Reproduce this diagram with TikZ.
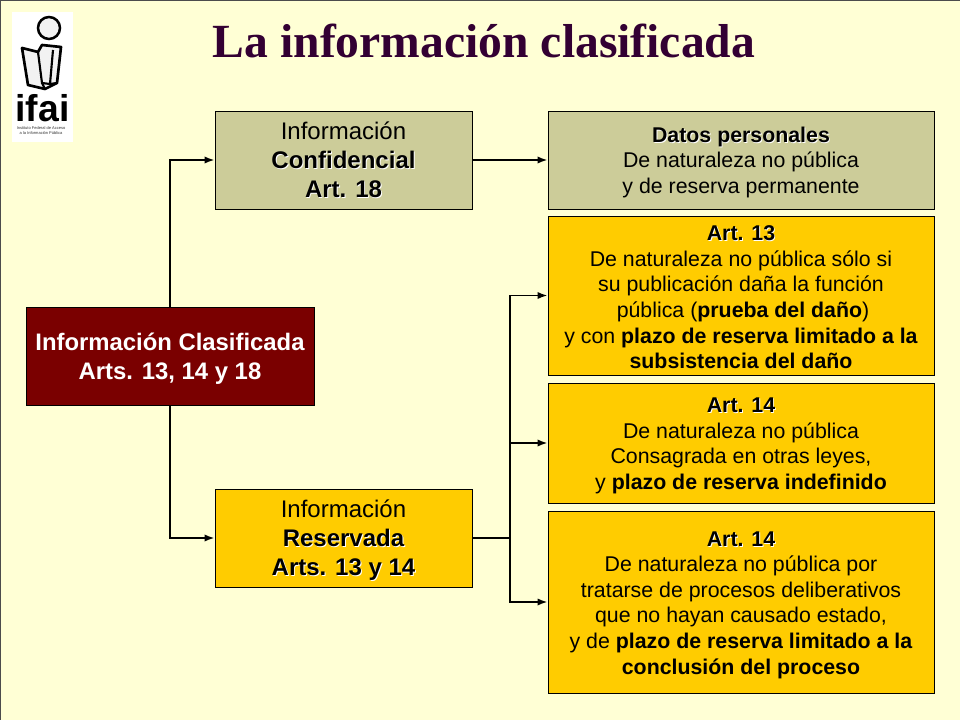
\documentclass[tikz,border=0pt]{standalone}
\usepackage{fontspec}
\usetikzlibrary{arrows.meta}
\setmainfont{Liberation Sans}
\newfontfamily\titlefont{Liberation Serif}
\definecolor{ifai-back}{RGB}{255,255,213}
\definecolor{ifai-olive}{RGB}{204,204,153}
\definecolor{ifai-gold}{RGB}{255,204,0}
\definecolor{ifai-maroon}{RGB}{122,0,0}
\definecolor{ifai-title}{RGB}{51,0,51}
\newcommand{\shadowbold}[1]{{\bfseries\makebox[0pt][l]{\hspace{0.7pt}\raisebox{-0.7pt}{\color{white}#1}}#1}}
\newcommand{\firstline}[1]{\rule{0pt}{#1}}
\tikzset{
	infobox/.style={draw=black, line width=0.7pt, inner sep=0pt, align=center, font=\fontsize{18}{21.8}\selectfont, minimum width=192.75pt, minimum height=73.5pt},
	detailbox/.style={draw=black, line width=0.7pt, inner sep=0pt, align=center, font=\fontsize{16}{19.2}\selectfont, minimum width=289.5pt},
	link/.style={-{Latex[length=7.5pt, width=5.5pt]}, line width=1.4pt}
}

\begin{document}
\begin{tikzpicture}[x=0.75pt, y=-0.75pt]
		% Draw the slide background
		\fill[ifai-back] (0,0) rectangle (960,720);
		\useasboundingbox (0,0) rectangle (960,720);
		\draw[black!70, line width=1pt] (960,0) -- (0,0) -- (0,720);
		
		% Draw the title
		\node (title) [font=\titlefont\bfseries\fontsize{35.7}{40}\selectfont, text=ifai-title, anchor=center] at (484,41) {La información clasificada};
		
		% Draw the logo
		\fill[white] (12,12) rectangle (73,142);
		\draw[line width=1.9pt, fill=black!5] (49,28) circle (11);
		\draw[line width=2pt, fill=black!5, line join=round] (22,48) -- (38,52) -- (42,45) -- (61,47) -- (57,83) -- (45,89) -- (28,85) -- cycle;
		\draw[line width=1.6pt] (38,52) -- (42,83) -- (50,84) -- (53,50) (42,83) -- (45,89) (50,84) -- (57,83);
		\node (logoname) [font=\bfseries\fontsize{28}{28}\selectfont, inner sep=0pt] at (42.5,108) {ifai};
		\node (logotext) [font=\fontsize{3}{3.75}\selectfont, align=center, inner sep=0pt, text=black!80] at (41,131) {Instituto Federal de Acceso\\a la Información Pública};
		
		% Draw the main block
		\node (main) [draw=black, line width=0.7pt, fill=ifai-maroon, text=white, inner sep=0pt, align=center, font=\bfseries\fontsize{17.9}{21.8}\selectfont, minimum width=216pt, minimum height=73.5pt] at (170,356) {\firstline{17.5pt}Información Clasificada\\Arts. 13, 14 y 18};
		
		% Draw the two kinds of information
		\node (conf) [infobox, fill=ifai-olive] at (343.5,160) {Información\\\shadowbold{Confidencial}\\\shadowbold{Art. 18}};
		\node (res) [infobox, fill=ifai-gold] at (343.5,538) {Información\\\shadowbold{Reservada}\\\smash{\shadowbold{Arts. 13 y 14}}};
		
		% Draw the detail blocks
		\node (datos) [detailbox, fill=ifai-olive, minimum height=73.5pt] at (741,160) {\firstline{15pt}\shadowbold{Datos personales}\\De naturaleza no pública\\y de reserva permanente};
		\node (art13) [detailbox, fill=ifai-gold, minimum height=119.25pt] at (741,295.5) {\firstline{14pt}\shadowbold{Art. 13}\\De naturaleza no pública sólo si\\su publicación daña la función\\\hspace{3pt}pública (\textbf{prueba del daño})\\y con \textbf{plazo de reserva limitado a la}\\\textbf{subsistencia del daño}};
		\node (art14a) [detailbox, fill=ifai-gold, minimum height=90pt] at (741,443) {\firstline{15.5pt}\shadowbold{Art. 14}\\De naturaleza no pública\\Consagrada en otras leyes,\\y \textbf{plazo de reserva indefinido}};
		\node (art14b) [detailbox, fill=ifai-gold, minimum height=136.5pt] at (741,602) {\firstline{15.5pt}\shadowbold{Art. 14}\\De naturaleza no pública por\\tratarse de procesos deliberativos\\que no hayan causado estado,\\y de \textbf{plazo de reserva limitado a la}\\\textbf{conclusión del proceso}};
		
		% Connect the blocks with arrows
		\coordinate (fork) at (510,538);
		\draw[link] (main.north) |- (conf.west);
		\draw[link] (main.south) |- (res.west);
		\draw[link] (conf.east) -- (datos.west);
		\draw[line width=2pt] (res.east) -- (fork);
		\draw[link] (fork) |- (art13.west);
		\draw[link] (fork) |- (art14a.west);
		\draw[link] (fork) |- (art14b.west);
		\end{tikzpicture}
\end{document}
